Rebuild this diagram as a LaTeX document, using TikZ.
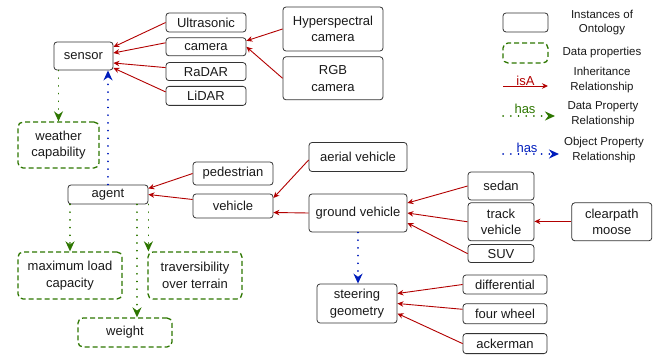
\documentclass[tikz,border=0pt]{standalone}
\usepackage{fontspec}
\setmainfont{Liberation Sans}
\usetikzlibrary{arrows.meta, positioning}
\definecolor{isared}{HTML}{B20000}
\definecolor{hasgreen}{HTML}{2D7600}
\definecolor{hasblue}{HTML}{001DBC}

\begin{document}
\begin{tikzpicture}[x=1pt, y=-1pt,
  inst/.style={draw=black!80, line width=0.8pt, rounded corners=3pt, align=center,
    inner sep=1pt, text=black!90, font=\fontsize{13}{16.5}\selectfont},
  dprop/.style={draw=hasgreen, line width=1.3pt, dash pattern=on 5pt off 3pt,
    rounded corners=5pt, align=center, inner sep=1pt, text=black!90,
    font=\fontsize{13}{16.5}\selectfont},
  legtext/.style={align=center, inner sep=0pt, text=black!90,
    font=\fontsize{11.5}{14.5}\selectfont},
  isa/.style={draw=isared, line width=0.9pt, -{Stealth[length=6pt, width=5.5pt]}},
  hasdata/.style={draw=hasgreen, line width=1.6pt, line cap=round,
    dash pattern=on 0.2pt off 7.5pt, -{Stealth[length=10pt, width=9pt]}},
  hasobj/.style={draw=hasblue, line width=1.6pt, line cap=round,
    dash pattern=on 0.2pt off 7.5pt, -{Stealth[length=10pt, width=9pt]}}]
\useasboundingbox (0,0) rectangle (661,355);

% sensors
\node[inst, minimum width=59pt, minimum height=28pt] (sensor) at (83.5,56) {sensor};
\node[inst, minimum width=80pt, minimum height=19pt] (ultra) at (206,22.5) {Ultrasonic};
\node[inst, minimum width=80pt, minimum height=18pt, below=5pt of ultra] (camera) {camera};
\node[inst, minimum width=80pt, minimum height=18pt, below=6pt of camera] (radar) {RaDAR};
\node[inst, minimum width=80pt, minimum height=19pt, below=5pt of radar] (lidar) {LiDAR};
\node[inst, minimum width=100pt, minimum height=44pt] (hyper) at (333,29) {Hyperspectral\\camera};
\node[inst, minimum width=100pt, minimum height=43pt, below=5pt of hyper] (rgb) {RGB\\camera};
\node[dprop, minimum width=81pt, minimum height=46pt] (weather) at (58.5,145) {weather\\capability};

% agents
\node[inst, minimum width=80pt, minimum height=19pt] (agent) at (108,194.5) {agent};
\node[inst, minimum width=80pt, minimum height=23pt] (pedestrian) at (233,173.5) {pedestrian};
\node[inst, minimum width=80pt, minimum height=24pt] (vehicle) at (233,206) {vehicle};
\node[inst, minimum width=98pt, minimum height=29pt] (aerial) at (358,157) {aerial vehicle};
\node[inst, minimum width=98pt, minimum height=38pt] (ground) at (358,213) {ground vehicle};
\node[inst, minimum width=66pt, minimum height=28pt] (sedan) at (501,186) {sedan};
\node[inst, minimum width=66pt, minimum height=38pt, below=2pt of sedan] (track) {track\\vehicle};
\node[inst, minimum width=66pt, minimum height=18pt, below=3pt of track] (suv) {SUV};
\node[inst, minimum width=80pt, minimum height=38pt, right=37pt of track] (moose) {clearpath\\moose};

% steering
\node[inst, minimum width=80pt, minimum height=39pt] (steering) at (357,303.5) {steering\\geometry};
\node[inst, minimum width=84pt, minimum height=19pt] (diff) at (505,284.5) {differential};
\node[inst, minimum width=84pt, minimum height=20pt, below=9pt of diff] (four) {four wheel};
\node[inst, minimum width=84pt, minimum height=20pt, below=9pt of four] (acker) {ackerman};

% data properties of agent
\node[dprop, minimum width=104pt, minimum height=47pt] (maxload) at (70,275.5) {maximum load\\capacity};
\node[dprop, minimum width=94pt, minimum height=47pt] (travers) at (195,275.5) {traversibility\\over terrain};
\node[dprop, minimum width=94pt, minimum height=29pt] (weight) at (125,332.5) {weight};

% legend
\node[inst, minimum width=45pt, minimum height=19pt] (lgInstBox) at (525.5,22.5) {};
\node[dprop, minimum width=45pt, minimum height=20pt] (lgDataBox) at (525.5,53) {};
\node[legtext] (lgInst) at (602,22.5) {Instances of\\Ontology};
\node[legtext] (lgData) at (602,53) {Data properties};
\node[legtext] (lgIsa) at (602,80) {Inheritance\\Relationship};
\node[legtext] (lgHasData) at (603,114) {Data Property\\Relationship};
\node[legtext] (lgHasObj) at (604,150) {Object Property\\Relationship};
\coordinate (isaL) at (503,86);
\coordinate (isaR) at (548,86);
\coordinate (dataL) at (503,116);
\coordinate (dataR) at (555,116);
\coordinate (objL) at (503,154);
\coordinate (objR) at (559,154);

\draw (ultra.west) edge[isa] ([yshift=9pt]sensor.east)
([yshift=4pt]camera.west) edge[isa] ([yshift=3pt]sensor.east)
([yshift=4pt]radar.west) edge[isa] ([yshift=-7pt]sensor.east)
([yshift=4pt]lidar.west) edge[isa] ([yshift=-12pt]sensor.east)
(hyper.west) edge[isa] ([yshift=6pt]camera.east)
(rgb.west) edge[isa] (camera.east)
(pedestrian.west) edge[isa] ([yshift=6pt]agent.east)
([yshift=6.5pt]vehicle.west) edge[isa] (agent.east)
([yshift=-3pt]aerial.west) edge[isa] ([yshift=8pt]vehicle.east)
(ground.west) edge[isa] ([yshift=-6.5pt]vehicle.east)
(sedan.west) edge[isa] ([yshift=10pt]ground.east)
(track.west) edge[isa] (ground.east)
(suv.west) edge[isa] ([yshift=-10pt]ground.east)
(diff.west) edge[isa] ([yshift=10pt]steering.east)
([yshift=4.5pt]four.west) edge[isa] (steering.east)
(acker.west) edge[isa] ([yshift=-10pt]steering.east)
;
\draw[isa] ([yshift=0.4pt]moose.west) -- ([yshift=0.4pt]track.east);
\draw (sensor.south -| weather.north) edge[hasdata] (weather.north)
(agent.south -| maxload.north) edge[hasdata] (maxload.north)
([xshift=29pt]agent.south) edge[hasdata] ([xshift=29pt]agent.south |- weight.north)
(agent.south east) edge[hasdata] (agent.south east |- travers.north)
(agent.north) edge[hasobj] (agent.north |- sensor.south)
(ground.south) edge[hasobj] (ground.south |- steering.north)
;
\draw (isaL) edge[isa] node[above, inner sep=0pt, text=isared, font=\fontsize{13}{15}\selectfont] {isA} (isaR)
(dataL) edge[hasdata] node[above, inner sep=1.5pt, xshift=-4pt, text=hasgreen, font=\fontsize{13}{15}\selectfont] {has} (dataR)
(objL) edge[hasobj] node[above, inner sep=1pt, xshift=-4pt, text=hasblue, font=\fontsize{13}{15}\selectfont] {has} (objR)
;
\end{tikzpicture}
\end{document}
